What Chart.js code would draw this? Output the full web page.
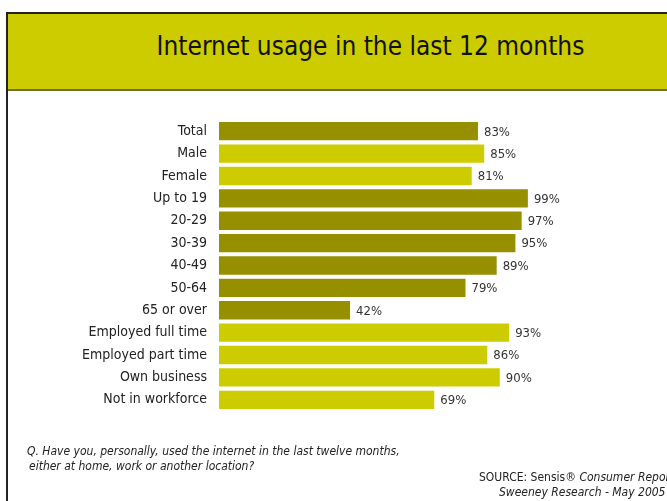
<!DOCTYPE html>
<html>
<head>
<meta charset="utf-8">
<script src="https://cdn.jsdelivr.net/npm/chart.js@4/dist/chart.umd.min.js"></script>
<style>
html,body{margin:0;padding:0;background:#fff;}
body{width:667px;height:501px;position:relative;overflow:hidden;font-family:"DejaVu Sans Condensed","Liberation Sans Narrow",sans-serif;}
#frame{position:absolute;left:6px;top:12px;width:700px;height:520px;border-left:2px solid #222;border-top:2px solid #222;}
#header{position:absolute;left:8px;top:14px;width:700px;height:75px;background:#cccc00;border-bottom:2px solid #6f6d2a;}
#title{position:absolute;left:0;top:31px;width:741px;text-align:center;font-size:26px;color:#111;}
#chartBox{position:absolute;left:0;top:0;width:667px;height:501px;}
.note{position:absolute;font-size:12px;color:#222;font-style:italic;white-space:nowrap;}
</style>
</head>
<body>
<div id="frame"></div>
<div id="header"></div>
<div id="title">Internet usage in the last 12 months</div>
<div id="chartBox"><canvas id="c" width="667" height="501"></canvas></div>
<div class="note" style="left:27px;top:444px;">Q. Have you, personally, used the internet in the last twelve months,</div>
<div class="note" style="left:29px;top:459px;">either at home, work or another location?</div>
<div class="note" style="left:479px;top:470px;font-style:normal;">SOURCE: Sensis® <i>Consumer Report</i></div>
<div class="note" style="left:499px;top:485px;">Sweeney Research - May 2005</div>
<script>
// data
const categories=["Total","Male","Female","Up to 19","20-29","30-39","40-49","50-64","65 or over","Employed full time","Employed part time","Own business","Not in workforce"];
const values=[83,85,81,99,97,95,89,79,42,93,86,90,69];
const groups=["total","gender","gender","age","age","age","age","age","age","work","work","work","work"];

const DARK="#968f00",LIGHT="#cccc00";
const barColors=groups.map(g=>(g==="total"||g==="age")?DARK:LIGHT);

const valueLabels={
  id:"valueLabels",
  afterDatasetsDraw(chart){
    const ctx=chart.ctx;const meta=chart.getDatasetMeta(0);
    ctx.save();ctx.font='13px "DejaVu Sans Condensed", sans-serif';ctx.fillStyle="#333";ctx.textBaseline="middle";ctx.textAlign="left";
    meta.data.forEach((bar,i)=>{ctx.fillText(values[i]+"%",bar.x+6,bar.y+1);});
    ctx.restore();
  }
};

new Chart(document.getElementById("c"),{
  type:"bar",
  data:{labels:categories,datasets:[{data:values,backgroundColor:barColors,borderWidth:0,barPercentage:0.82,categoryPercentage:1}]},
  options:{
    indexAxis:"y",responsive:false,animation:false,maintainAspectRatio:false,
    layout:{padding:{top:120,bottom:90,right:136,left:0}},
    plugins:{legend:{display:false},tooltip:{enabled:false}},
    scales:{
      x:{min:0,max:100,display:false},
      y:{grid:{display:false},border:{display:false},
         ticks:{color:"#222",font:{size:14,family:'"DejaVu Sans Condensed", sans-serif'},padding:4},
         afterFit(s){s.width=219;}}
    }
  },
  plugins:[valueLabels]
});
</script>
</body>
</html>
